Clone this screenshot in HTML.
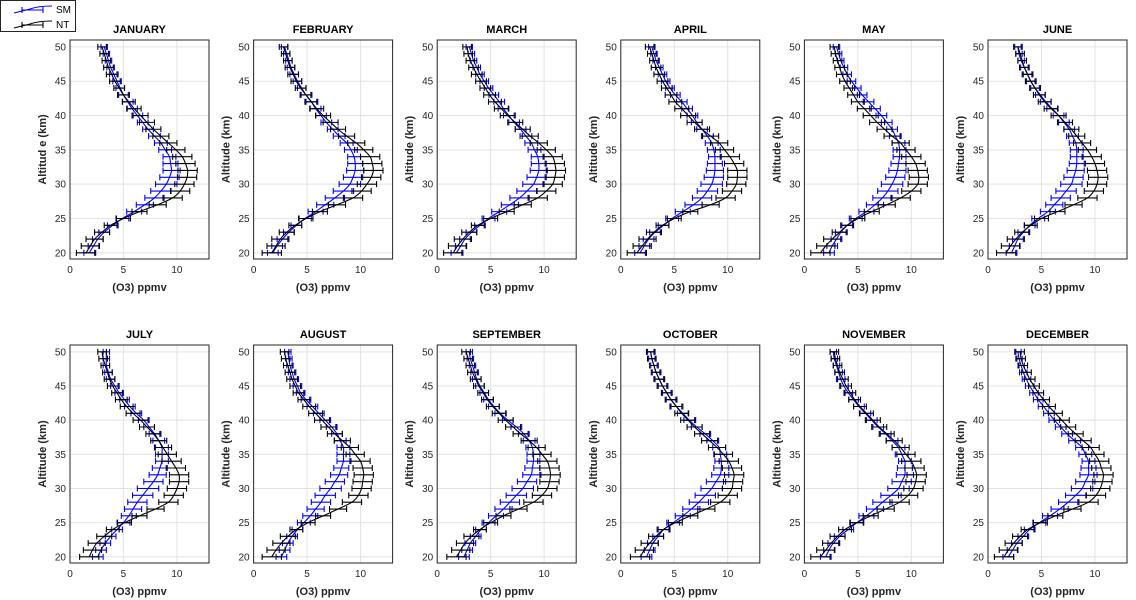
<!DOCTYPE html>
<html><head><meta charset="utf-8"><style>
html,body{margin:0;padding:0;background:#fff;}
svg{display:block;font-family:"Liberation Sans",Arial,sans-serif;}
</style></head><body>
<svg id="fig" width="1136" height="600" viewBox="0 0 1136 600"></svg>
<script>
const months = ["JANUARY","FEBRUARY","MARCH","APRIL","MAY","JUNE","JULY","AUGUST","SEPTEMBER","OCTOBER","NOVEMBER","DECEMBER"];
const altitudes = [20,21,22,23,24,25,26,27,28,29,30,31,32,33,34,35,36,37,38,39,40,41,42,43,44,45,46,47,48,49,50];
const xTicks = [0,5,10];
const yTicks = [20,25,30,35,40,45,50];
const ntValues = [
[1.5,1.9,2.3,3.0,3.8,5.0,6.5,8.2,9.6,10.3,10.7,10.95,11.0,10.8,10.5,9.9,9.2,8.5,7.8,7.2,6.6,6.0,5.5,5.0,4.6,4.2,3.9,3.6,3.4,3.2,3.0],
[1.7,2.1,2.5,3.1,3.9,4.9,6.2,7.8,9.3,10.1,10.6,11.0,11.2,11.1,10.9,10.3,9.6,8.7,7.9,7.2,6.5,5.9,5.4,4.9,4.4,4.0,3.7,3.4,3.2,3.0,2.8],
[1.5,1.9,2.4,3.0,3.8,5.0,6.5,8.0,9.4,10.2,10.8,11.0,11.1,11.0,10.8,10.2,9.5,8.7,8.0,7.3,6.6,6.0,5.4,4.9,4.5,4.1,3.7,3.4,3.1,2.9,2.8],
[1.5,2.0,2.5,3.1,3.9,5.0,6.5,8.4,9.8,10.4,10.8,10.9,10.9,10.6,10.2,9.7,9.2,8.4,7.6,6.9,6.3,5.7,5.1,4.7,4.3,3.9,3.6,3.3,3.1,2.9,2.7],
[1.5,2.0,2.6,3.3,4.0,5.0,6.3,7.7,9.0,10.0,10.6,10.7,10.6,10.4,10.0,9.5,9.0,8.2,7.5,6.8,6.2,5.6,5.0,4.6,4.2,3.8,3.5,3.3,3.1,2.9,2.8],
[1.7,2.1,2.6,3.2,4.0,5.0,6.5,8.0,9.3,9.9,10.2,10.3,10.2,10.0,9.7,9.3,8.8,8.3,7.8,7.2,6.6,5.9,5.3,4.8,4.4,4.0,3.7,3.4,3.2,3.0,2.8],
[1.8,2.1,2.5,3.2,4.0,5.1,6.5,8.0,9.2,9.7,10.0,10.2,10.2,9.9,9.5,9.1,8.7,8.3,7.8,7.2,6.6,5.9,5.3,4.8,4.4,4.0,3.7,3.5,3.3,3.1,3.0],
[1.7,2.1,2.6,3.2,4.0,5.1,6.5,7.9,9.2,9.8,10.1,10.2,10.3,10.2,10.0,9.5,9.0,8.3,7.6,7.0,6.4,5.8,5.2,4.7,4.2,3.9,3.6,3.4,3.2,3.0,2.9],
[1.8,2.2,2.6,3.2,4.0,5.0,6.2,7.6,9.0,9.8,10.3,10.5,10.6,10.5,10.3,9.8,9.3,8.6,7.8,7.1,6.4,5.8,5.2,4.7,4.3,3.9,3.6,3.3,3.1,2.9,2.7],
[1.8,2.2,2.7,3.3,4.0,5.1,6.5,8.0,9.3,10.0,10.4,10.5,10.6,10.4,10.1,9.6,9.0,8.3,7.6,6.9,6.3,5.7,5.2,4.7,4.3,3.9,3.6,3.3,3.1,2.9,2.8],
[1.5,2.0,2.5,3.1,3.8,4.9,6.2,7.6,8.9,9.7,10.2,10.4,10.5,10.3,10.0,9.5,9.0,8.4,7.7,7.0,6.4,5.8,5.2,4.7,4.3,3.9,3.6,3.3,3.1,2.9,2.8],
[1.5,1.9,2.4,3.0,3.7,4.9,6.3,7.9,9.4,10.1,10.5,10.7,10.8,10.6,10.4,10.0,9.6,8.9,8.2,7.5,6.9,6.3,5.7,5.2,4.7,4.3,3.9,3.6,3.3,3.1,3.0]];
const smValues = [
[1.8,2.2,2.6,3.2,4.0,4.9,6.0,7.0,7.9,8.5,9.0,9.3,9.5,9.4,9.3,8.9,8.5,7.9,7.3,6.8,6.3,5.8,5.4,5.0,4.7,4.4,4.1,3.8,3.6,3.4,3.2],
[1.8,2.2,2.7,3.3,4.0,4.8,5.8,6.7,7.6,8.4,9.0,9.3,9.5,9.5,9.4,9.1,8.7,8.0,7.4,6.8,6.3,5.8,5.4,4.9,4.5,4.1,3.8,3.5,3.3,3.1,2.9],
[1.8,2.2,2.6,3.2,4.0,4.8,5.8,6.8,7.7,8.4,9.0,9.3,9.5,9.5,9.4,9.1,8.8,8.3,7.8,7.2,6.7,6.2,5.8,5.3,4.8,4.4,4.0,3.7,3.4,3.2,3.0],
[1.8,2.2,2.6,3.2,4.0,4.8,5.8,6.8,7.6,8.1,8.5,8.7,8.8,8.8,8.8,8.7,8.5,8.1,7.6,7.1,6.7,6.2,5.7,5.1,4.6,4.2,3.9,3.6,3.3,3.1,2.9],
[2.3,2.6,3.0,3.4,4.0,4.8,5.8,6.6,7.3,7.8,8.2,8.5,8.7,8.8,8.9,8.9,8.8,8.5,8.2,7.7,7.2,6.6,6.0,5.4,4.9,4.4,4.0,3.7,3.4,3.2,3.0],
[2.2,2.5,2.8,3.3,3.9,4.7,5.6,6.2,6.8,7.3,7.8,8.0,8.2,8.3,8.3,8.3,8.2,7.9,7.6,7.1,6.6,6.0,5.4,4.9,4.4,4.0,3.7,3.4,3.1,2.9,2.8],
[2.6,2.9,3.3,3.8,4.4,5.0,5.5,5.9,6.3,6.8,7.3,7.8,8.2,8.4,8.6,8.6,8.6,8.3,7.9,7.4,6.9,6.2,5.6,5.1,4.6,4.2,3.8,3.6,3.4,3.4,3.4],
[2.6,2.9,3.2,3.6,4.1,4.7,5.3,5.8,6.3,6.7,7.2,7.6,8.0,8.2,8.4,8.4,8.4,8.1,7.8,7.3,6.7,6.1,5.5,4.9,4.4,4.1,3.8,3.6,3.4,3.3,3.2],
[2.5,2.8,3.1,3.6,4.1,4.8,5.5,6.2,6.8,7.4,8.0,8.4,8.8,8.9,9.0,9.0,8.9,8.6,8.1,7.4,6.6,5.9,5.3,4.8,4.4,4.0,3.7,3.5,3.3,3.1,3.0],
[2.4,2.7,3.0,3.5,4.0,4.9,5.8,6.6,7.3,7.9,8.5,8.9,9.3,9.4,9.4,9.3,9.2,8.6,7.9,7.1,6.4,5.8,5.2,4.7,4.3,3.9,3.6,3.3,3.1,2.9,2.8],
[2.0,2.3,2.7,3.3,4.1,4.9,5.8,6.6,7.3,8.1,8.8,9.1,9.4,9.4,9.4,9.1,8.8,8.2,7.6,6.9,6.3,5.7,5.1,4.6,4.1,3.7,3.4,3.2,3.0,2.8,2.7],
[1.9,2.3,2.7,3.3,3.9,4.8,5.8,6.7,7.5,8.2,8.8,9.1,9.4,9.4,9.4,9.1,8.8,8.1,7.4,6.8,6.2,5.7,5.2,4.7,4.3,3.9,3.6,3.3,3.1,2.9,2.8]];
const ntErr = [0.9,0.85,0.8,0.7,0.6,0.65,0.7,0.8,0.9,0.9,0.9,0.9,0.9,0.9,0.9,0.85,0.8,0.75,0.7,0.7,0.7,0.65,0.6,0.55,0.5,0.5,0.5,0.45,0.4,0.4,0.4];
const smErr = [0.5,0.5,0.5,0.5,0.5,0.6,0.7,0.8,0.9,0.95,1.0,0.9,0.8,0.7,0.6,0.6,0.6,0.55,0.5,0.5,0.5,0.5,0.5,0.45,0.4,0.4,0.4,0.35,0.3,0.3,0.3];

const NS="http://www.w3.org/2000/svg";
const svg=document.getElementById('fig');
function mk(tag,attrs,parent){const e=document.createElementNS(NS,tag);for(const k in attrs)e.setAttribute(k,attrs[k]);(parent||svg).appendChild(e);return e;}
const X0=0,X1=13,Y0=19.1,Y1=51,W=139;
function smoothPath(pts){
  let d="M"+pts[0][0].toFixed(2)+","+pts[0][1].toFixed(2);
  for(let i=0;i<pts.length-1;i++){
    const p0=pts[Math.max(i-1,0)],p1=pts[i],p2=pts[i+1],p3=pts[Math.min(i+2,pts.length-1)];
    const c1=[p1[0]+(p2[0]-p0[0])/6,p1[1]+(p2[1]-p0[1])/6];
    const c2=[p2[0]-(p3[0]-p1[0])/6,p2[1]-(p3[1]-p1[1])/6];
    d+="C"+c1[0].toFixed(2)+","+c1[1].toFixed(2)+" "+c2[0].toFixed(2)+","+c2[1].toFixed(2)+" "+p2[0].toFixed(2)+","+p2[1].toFixed(2);
  }
  return d;
}
months.forEach((m,i)=>{
  const col=i%6,row=Math.floor(i/6);
  const L=70+col*183.6, T=row?345:40, H=row?218:219;
  const xs=v=>L+(v-X0)/(X1-X0)*W;
  const ys=v=>T+H-(v-Y0)/(Y1-Y0)*H;
  const g=mk('g',{});
  
  
  mk('rect',{x:L,y:T,width:W,height:H,fill:'#fff'},g);
  xTicks.forEach(t=>{
    const l=mk('line',{x1:xs(t),x2:xs(t),y1:T,y2:T+H,stroke:'#e3e3e3','stroke-width':1},g);
    
    const tx=mk('text',{x:xs(t),y:T+H+14,'text-anchor':'middle','font-size':10,fill:'#262626'},g);
    tx.textContent=t;
    
  });
  yTicks.forEach(t=>{
    const l=mk('line',{x1:L,x2:L+W,y1:ys(t),y2:ys(t),stroke:'#e3e3e3','stroke-width':1},g);
    
    const tx=mk('text',{x:L-4,y:ys(t)+3.5,'text-anchor':'end','font-size':10,fill:'#262626'},g);
    tx.textContent=t;
    
  });
  const series=[[smValues[i],smErr,'#0000ff','sm'],[ntValues[i],ntErr,'#000','nt']];
  series.forEach(([vals,err,c,nm])=>{
    const pts=altitudes.map((a,k)=>[xs(vals[k]),ys(a)]);
    const p=mk('path',{d:smoothPath(pts),fill:'none',stroke:c,'stroke-width':1.1},g);
    
    altitudes.forEach((a,k)=>{
      const y=ys(a),xa=xs(vals[k]-err[k]),xb=xs(vals[k]+err[k]);
      const e=mk('path',{d:`M${xa},${y}H${xb}M${xa},${y-3}V${y+3}M${xb},${y-3}V${y+3}`,stroke:c,'stroke-width':1.1,fill:'none'},g);
      
    });
  });
  const fr=mk('rect',{x:L,y:T,width:W,height:H,fill:'none',stroke:'#262626','stroke-width':1},g);
  
  const ti=mk('text',{x:L+W/2,y:T-7,'text-anchor':'middle','font-size':11,'font-weight':'bold',fill:'#000'},g);
  ti.textContent=m;
  const xl=mk('text',{x:L+W/2,y:T+H+32,'text-anchor':'middle','font-size':11,'font-weight':'bold',fill:'#262626'},g);
  xl.textContent='(O3) ppmv';
  const yl=mk('text',{x:0,y:0,transform:`translate(${L-24},${T+H/2}) rotate(-90)`,'text-anchor':'middle','font-size':11,'font-weight':'bold',fill:'#262626'},g);
  yl.textContent=i===0?'Altitud e (km)':'Altitude (km)';
});
const lg=mk('g',{});


mk('rect',{x:0.5,y:0.5,width:75,height:31,fill:'#fff',stroke:'#262626','stroke-width':1},lg);
[['SM','#0000ff',10],['NT','#000',25]].forEach(([lab,c,y])=>{
  const e=mk('g',{},lg);
  
  
  mk('path',{d:`M14,${y+3} L30,${y-1} Q38,${y-4} 52,${y-4} M22,${y}H43 M22,${y-3}V${y+3} M43,${y-3}V${y+3}`,stroke:c,'stroke-width':1.1,fill:'none'},e);
  const t=mk('text',{x:56,y:y+3,'font-size':10,fill:'#000'},e);t.textContent=lab;
});
</script>
</body></html>
